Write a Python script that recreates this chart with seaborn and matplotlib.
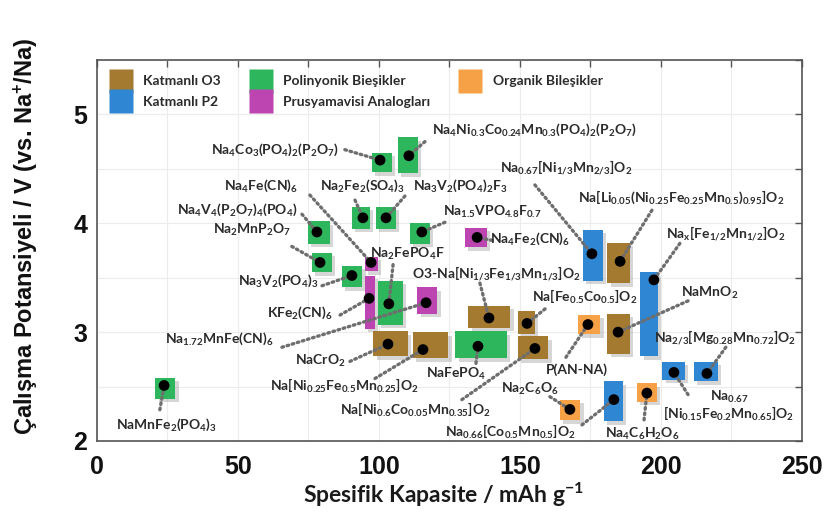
import matplotlib
matplotlib.use("Agg")
import matplotlib.pyplot as plt
import matplotlib.patheffects as pe
from matplotlib.patches import Rectangle
from matplotlib.lines import Line2D
import seaborn as sns
import pandas as pd

# ---------------- data ----------------
materials = [
    r"Na$_{4}$Co$_{3}$(PO$_{4}$)$_{2}$(P$_{2}$O$_{7}$)",
    r"Na$_{4}$Ni$_{0.3}$Co$_{0.24}$Mn$_{0.3}$(PO$_{4}$)$_{2}$(P$_{2}$O$_{7}$)",
    r"Na$_{0.67}$[Ni$_{1/3}$Mn$_{2/3}$]O$_{2}$",
    r"Na[Li$_{0.05}$(Ni$_{0.25}$Fe$_{0.25}$Mn$_{0.5}$)$_{0.95}$]O$_{2}$",
    r"Na$_{4}$Fe(CN)$_{6}$",
    r"Na$_{2}$Fe$_{2}$(SO$_{4}$)$_{3}$",
    r"Na$_{3}$V$_{2}$(PO$_{4}$)$_{2}$F$_{3}$",
    r"Na$_{4}$V$_{4}$(P$_{2}$O$_{7}$)$_{4}$(PO$_{4}$)",
    r"Na$_{1.5}$VPO$_{4.8}$F$_{0.7}$",
    r"Na$_{x}$[Fe$_{1/2}$Mn$_{1/2}$]O$_{2}$",
    r"Na$_{2}$MnP$_{2}$O$_{7}$",
    r"Na$_{4}$Fe$_{2}$(CN)$_{6}$",
    r"Na$_{2}$FePO$_{4}$F",
    r"Na$_{3}$V$_{2}$(PO$_{4}$)$_{3}$",
    r"O3-Na[Ni$_{1/3}$Fe$_{1/3}$Mn$_{1/3}$]O$_{2}$",
    r"NaMnO$_{2}$",
    r"Na[Fe$_{0.5}$Co$_{0.5}$]O$_{2}$",
    r"KFe$_{2}$(CN)$_{6}$",
    r"Na$_{2/3}$[Mg$_{0.28}$Mn$_{0.72}$]O$_{2}$",
    r"Na$_{1.72}$MnFe(CN)$_{6}$",
    r"NaCrO$_{2}$",
    r"P(AN-NA)",
    r"NaFePO$_{4}$",
    r"Na[Ni$_{0.25}$Fe$_{0.5}$Mn$_{0.25}$]O$_{2}$",
    r"Na$_{2}$C$_{6}$O$_{6}$",
    "Na$_{0.67}$\n[Ni$_{0.15}$Fe$_{0.2}$Mn$_{0.65}$]O$_{2}$",
    r"Na[Ni$_{0.6}$Co$_{0.05}$Mn$_{0.35}$]O$_{2}$",
    r"NaMnFe$_{2}$(PO$_{4}$)$_{3}$",
    r"Na$_{0.66}$[Co$_{0.5}$Mn$_{0.5}$]O$_{2}$",
    r"Na$_{4}$C$_{6}$H$_{2}$O$_{6}$",
]
material_class = [
    "Polinyonik Bieşikler", "Polinyonik Bieşikler", "Katmanlı P2", "Katmanlı O3",
    "Prusyamavisi Analogları", "Polinyonik Bieşikler", "Polinyonik Bieşikler",
    "Polinyonik Bieşikler", "Polinyonik Bieşikler", "Katmanlı P2",
    "Polinyonik Bieşikler", "Prusyamavisi Analogları", "Polinyonik Bieşikler",
    "Polinyonik Bieşikler", "Katmanlı O3", "Katmanlı O3", "Katmanlı O3",
    "Prusyamavisi Analogları", "Katmanlı P2", "Prusyamavisi Analogları",
    "Katmanlı O3", "Organik Bileşikler", "Polinyonik Bieşikler", "Katmanlı O3",
    "Organik Bileşikler", "Katmanlı P2", "Katmanlı O3", "Polinyonik Bieşikler",
    "Katmanlı P2", "Organik Bileşikler",
]
capacity = [100.4, 110.6, 175.5, 185.5, 97.2, 94.3, 102.5, 78.0, 115.2, 197.5,
            79.1, 134.8, 103.5, 90.4, 139.0, 184.8, 152.5, 96.5, 216.3, 116.7,
            103.2, 174.1, 135.1, 115.6, 167.7, 204.6, 155.3, 23.8, 183.3, 195.0]
voltage = [4.58, 4.62, 3.72, 3.65, 3.64, 4.05, 4.05, 3.92, 3.92, 3.48,
           3.64, 3.87, 3.26, 3.52, 3.13, 3.00, 3.08, 3.31, 2.62, 3.27,
           2.89, 3.07, 2.87, 2.84, 2.29, 2.63, 2.85, 2.51, 2.38, 2.44]
capacity_min = [97.5, 106.7, 172.3, 180.9, 95.0, 90.4, 98.9, 74.8, 111.0, 192.6,
                76.2, 130.5, 99.6, 86.9, 131.6, 181.0, 149.3, 95.0, 211.7, 113.5,
                98.0, 170.6, 127.0, 112.0, 164.2, 200.4, 149.3, 20.6, 179.8, 191.5]
capacity_max = [104.6, 113.8, 179.4, 189.0, 99.6, 96.8, 106.0, 82.6, 118.0, 198.9,
                83.3, 138.3, 108.5, 94.0, 146.5, 189.0, 155.3, 98.6, 220.2, 120.6,
                110.3, 178.4, 145.4, 124.5, 171.3, 208.5, 160.0, 27.7, 186.5, 198.6]
voltage_min = [4.47, 4.46, 3.47, 3.45, 3.56, 3.95, 3.95, 3.81, 3.81, 2.78,
               3.55, 3.78, 3.07, 3.41, 3.04, 2.80, 2.98, 3.03, 2.55, 3.17,
               2.78, 2.98, 2.76, 2.76, 2.19, 2.56, 2.75, 2.39, 2.18, 2.36]
voltage_max = [4.65, 4.79, 3.94, 3.82, 3.69, 4.15, 4.15, 4.02, 4.00, 3.55,
               3.73, 3.96, 3.47, 3.61, 3.24, 3.17, 3.19, 3.52, 2.73, 3.41,
               3.01, 3.16, 3.01, 3.00, 2.38, 2.73, 2.96, 2.58, 2.55, 2.53]

class_names = ["Katmanlı O3", "Katmanlı P2", "Polinyonik Bieşikler",
               "Prusyamavisi Analogları", "Organik Bileşikler"]
class_colors = ["#A47A30", "#2F86D3", "#2EB65C", "#BC45B2", "#F6A145"]

x_ticks = [0, 50, 100, 150, 200, 250]
y_ticks = [2, 3, 4, 5]

# label placement (layout)
label_x = [63.1, 155.0, 166.3, 207.1, 58.2, 94.0, 128.7, 49.6, 140.1, 223.0,
           55.0, 153.5, 110.0, 64.2, 141.5, 217.4, 173.0, 72.0, 222.7, 43.3,
           79.1, 170.2, 127.3, 87.6, 153.5, 224.1, 112.8, 24.5, 146.5, 193.3]
label_y = [4.676, 4.861, 4.509, 4.241, 4.343, 4.343, 4.343, 4.12, 4.10, 3.907,
           3.935, 3.861, 3.718, 3.472, 3.540, 3.361, 3.324, 3.176, 2.944, 2.935,
           2.731, 2.657, 2.62, 2.509, 2.481, 2.324, 2.287, 2.148, 2.083, 2.065]
leader_x = [87.9, 116.3, 155.3, 196.8, 75.5, 91.5, 109.2, 72.7, 123.4, 206.7,
            69.1, 140.1, 105.0, 79.8, 135.8, 209.6, 158.9, 86.2, 223.0, 65.6,
            89.7, 166.3, 134.4, 98.6, 160.6, 209.6, 129.4, 22.3, 172.0, 194.0]
leader_y = [4.676, 4.75, 4.352, 4.12, 4.259, 4.213, 4.25, 4.083, 4.009, 3.815,
            3.787, 3.843, 3.62, 3.426, 3.45, 3.287, 3.213, 3.157, 2.861, 2.861,
            2.731, 2.769, 2.713, 2.574, 2.407, 2.426, 2.380, 2.287, 2.148, 2.194]

df = pd.DataFrame({"material": materials, "sinif": material_class,
                   "kapasite": capacity, "potansiyel": voltage})

# ---------------- plot ----------------
sns.set_style("white")
plt.rcParams["font.family"] = ["Lato", "DejaVu Sans"]
plt.rcParams["mathtext.fontset"] = "custom"
plt.rcParams["mathtext.rm"] = "Lato:bold"
plt.rcParams["mathtext.it"] = "Lato:bold"
plt.rcParams["mathtext.bf"] = "Lato:bold"
plt.rcParams["mathtext.default"] = "rm"

fig = plt.figure(figsize=(8.26, 5.28), dpi=100)
ax = fig.add_axes([0.1174, 0.1648, 0.8535, 0.7216])
ax.set_xlim(0, 250)
ax.set_ylim(2, 5.5)

color_of = dict(zip(class_names, class_colors))
shadow = [pe.SimplePatchShadow(offset=(2.5, -2.5), shadow_rgbFace=(0.55, 0.55, 0.55), alpha=0.35),
          pe.Normal()]
for i in range(len(materials)):
    r = Rectangle((capacity_min[i], voltage_min[i]),
                  capacity_max[i] - capacity_min[i], voltage_max[i] - voltage_min[i],
                  facecolor=color_of[material_class[i]], edgecolor="none", zorder=2,
                  path_effects=shadow)
    ax.add_patch(r)
    ax.plot([leader_x[i], capacity[i]], [leader_y[i], voltage[i]],
            linestyle=(0, (0.5, 1.1)), dash_capstyle="round", lw=2.4,
            color="#6e6e6e", zorder=3)
    ax.text(label_x[i], label_y[i], materials[i], ha="center", va="center",
            fontsize=10, fontweight="bold", color="#2b2b2b", zorder=5,
            linespacing=1.0)

sns.scatterplot(data=df, x="kapasite", y="potansiyel", color="black", s=60,
                edgecolor="none", ax=ax, zorder=4, legend=False)

# legend
handles = [Line2D([], [], marker="s", linestyle="none", markersize=17,
                  markerfacecolor=c, markeredgecolor="none") for c in class_colors]
leg = ax.legend(handles, class_names, ncol=3, loc="upper left",
                bbox_to_anchor=(0.006, 0.985), frameon=False,
                prop={"family": ["Lato", "DejaVu Sans"], "weight": "bold", "size": 10},
                handlelength=1.4, handletextpad=0.9, labelspacing=0.6,
                columnspacing=2.2, borderaxespad=0.3)
for t in leg.get_texts():
    t.set_color("#2b2b2b")

# axes styling
ax.set_xticks(x_ticks)
ax.set_yticks(y_ticks)
ax.set_xticks([v + 25 for v in x_ticks[:-1]], minor=True)
ax.set_yticks([v + 0.5 for v in y_ticks], minor=True)
ax.grid(True, which="both", color="#ececec", lw=0.8, zorder=0)
ax.set_axisbelow(True)
ax.tick_params(which="both", direction="in", top=True, right=True, length=5,
               width=1, color="#555555")
ax.tick_params(axis="x", which="major", pad=10)
ax.tick_params(axis="y", which="major", pad=7)
for lab in ax.get_xticklabels() + ax.get_yticklabels():
    lab.set_fontfamily(["Liberation Sans", "DejaVu Sans"])
    lab.set_fontweight("bold")
    lab.set_fontsize(18)
    lab.set_color("#111111")
for s in ax.spines.values():
    s.set_color("#555555")
    s.set_linewidth(1.2)

ax.set_xlabel(r"Spesifik Kapasite / mAh g$^{\mathbf{-1}}$", fontsize=16.5,
              fontweight="bold", color="#1a1a1a")
ax.set_ylabel(r"Çalışma Potansiyeli / V (vs. Na$^{+}$/Na)", fontsize=17,
              fontweight="bold", family=["Liberation Sans", "DejaVu Sans"],
              color="#111111")
ax.xaxis.set_label_coords(0.491, -0.105)
ax.yaxis.set_label_coords(-0.081, 0.538)

fig.savefig("out.png", dpi=100)
